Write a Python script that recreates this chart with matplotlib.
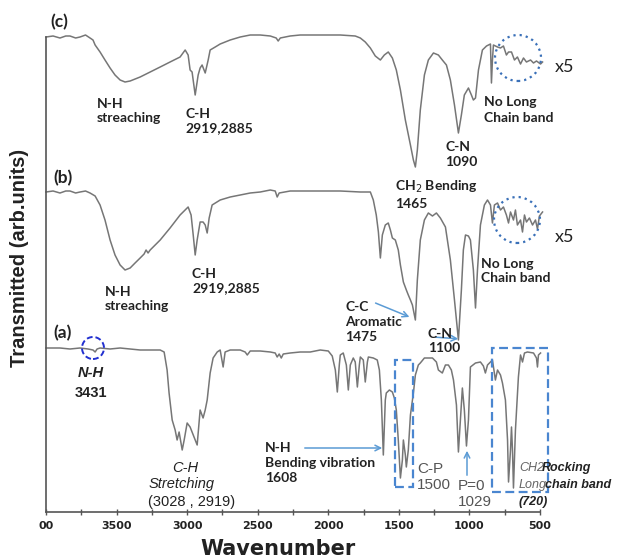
import matplotlib
matplotlib.use("Agg")
import matplotlib.pyplot as plt
from matplotlib.patches import Ellipse, Rectangle

# FTIR spectra, wavenumber (cm-1) and transmitted signal (arb. units, curves already offset)
wn_c = [4000, 3950, 3901, 3860, 3830, 3790, 3759, 3720, 3688, 3667, 3652, 3617, 3582, 3546, 3511,
        3475, 3440, 3404, 3333, 3262, 3191, 3121, 3050, 3014, 2993, 2979, 2965, 2943, 2922, 2908,
        2894, 2872, 2851, 2837, 2801, 2766, 2695, 2624, 2553, 2482, 2411, 2369, 2355, 2340, 2270,
        2199, 2057, 1915, 1809, 1773, 1738, 1702, 1667, 1631, 1603, 1575, 1546, 1518, 1489, 1454,
        1418, 1397, 1383, 1369, 1348, 1319, 1291, 1255, 1220, 1192, 1163, 1135, 1106, 1078, 1057,
        1036, 1007, 986, 972, 957, 936, 908, 879, 851, 844, 837, 830, 801, 780, 759, 738, 723, 702,
        681, 660, 638, 617, 596, 567, 546, 525, 496, 482]
t_c = [475, 476, 474, 476, 476, 474, 475, 477, 474, 472, 467, 460, 452, 444, 437,
       432, 430, 431, 435, 440, 445, 450, 455, 462, 457, 442, 440, 417, 437, 444,
       447, 439, 452, 462, 465, 468, 472, 475, 477, 477, 476, 474, 471, 474, 476,
       477, 477, 477, 476, 474, 470, 464, 456, 452, 457, 460, 454, 442, 422, 392,
       367, 352, 345, 362, 402, 437, 452, 459, 457, 452, 447, 432, 407, 379, 397,
       417, 424, 417, 412, 414, 442, 462, 466, 468, 429, 452, 467, 465, 464, 466, 457, 460, 460,
       452, 455, 448, 454, 450, 452, 449, 451, 448, 450]

wn_b = [4000, 3950, 3901, 3860, 3830, 3790, 3759, 3720, 3688, 3652, 3617, 3582, 3546, 3511, 3475,
        3440, 3404, 3369, 3333, 3305, 3291, 3277, 3262, 3191, 3121, 3050, 2993, 2972, 2957, 2943,
        2929, 2908, 2887, 2872, 2858, 2844, 2823, 2766, 2695, 2624, 2553, 2482, 2411, 2376, 2362,
        2348, 2270, 2199, 2057, 1915, 1773, 1702, 1681, 1660, 1645, 1631, 1617, 1596, 1575, 1560,
        1546, 1525, 1504, 1489, 1468, 1447, 1433, 1418, 1404, 1383, 1369, 1348, 1319, 1291, 1262,
        1234, 1206, 1170, 1135, 1106, 1078, 1057, 1043, 1028, 1007, 993, 972, 957, 943, 922, 894,
        872, 851, 837, 823, 801, 780, 759, 738, 723, 709, 688, 674, 660, 638, 624, 610, 596, 575,
        553, 532, 518, 504, 482]
t_b = [320, 321, 319, 321, 321, 319, 320, 321, 319, 316, 307, 292, 272, 257, 247,
       242, 244, 249, 254, 258, 262, 259, 262, 272, 284, 297, 305, 297, 277, 257,
       272, 290, 290, 287, 279, 294, 307, 312, 315, 317, 319, 320, 322, 321, 315,
       319, 321, 321, 321, 321, 320, 320, 312, 297, 280, 254, 277, 287, 289, 282,
       274, 272, 262, 247, 230, 222, 217, 212, 207, 192, 232, 272, 292, 299, 296,
       299, 294, 285, 252, 212, 172, 222, 262, 277, 276, 272, 242, 204, 242, 287, 307,
       312, 307, 289, 307, 309, 302, 305, 297, 289, 300, 292, 302, 287, 292, 280, 297, 290, 294,
       287, 292, 283, 296, 300]

wn_a = [4000, 3901, 3830, 3759, 3702, 3667, 3652, 3638, 3617, 3546, 3475, 3404, 3333, 3262, 3191,
        3163, 3142, 3128, 3106, 3085, 3071, 3057, 3035, 3021, 3000, 2979, 2957, 2929, 2908, 2887,
        2872, 2858, 2837, 2816, 2787, 2766, 2745, 2731, 2695, 2624, 2589, 2574, 2553, 2482, 2411,
        2376, 2362, 2348, 2333, 2319, 2270, 2199, 2128, 2057, 2000, 1972, 1950, 1936, 1922, 1915,
        1894, 1872, 1858, 1844, 1823, 1809, 1794, 1780, 1773, 1752, 1738, 1723, 1716, 1681, 1653,
        1638, 1624, 1610, 1596, 1589, 1567, 1546, 1532, 1518, 1504, 1489, 1475, 1468, 1454, 1447,
        1433, 1418, 1397, 1383, 1362, 1348, 1319, 1298, 1262, 1234, 1220, 1192, 1170, 1149, 1128,
        1113, 1092, 1078, 1064, 1050, 1036, 1021, 1007, 993, 957, 922, 901, 887, 872, 837, 816,
        801, 780, 766, 745, 730, 723, 709, 702, 695, 688, 674, 653, 638, 624, 610, 589, 546, 525,
        518, 511, 496]
t_a = [164, 164, 163, 164, 163, 162, 160, 163, 164, 163, 164, 163, 162, 162, 162,
       160, 142, 119, 92, 82, 72, 80, 62, 72, 89, 85, 77, 67, 102, 94,
       102, 112, 139, 154, 160, 162, 145, 160, 162, 162, 160, 157, 161, 161, 160,
       159, 155, 158, 154, 158, 159, 160, 160, 162, 161, 156, 142, 120, 147, 157,
       159, 147, 122, 147, 154, 150, 125, 147, 155, 152, 130, 150, 155, 154, 152,
       142, 112, 57, 112, 119, 122, 120, 114, 102, 72, 34, 52, 72, 57, 45,
       62, 97, 119, 137, 147, 149, 154, 154, 154, 150, 142, 139, 147, 147, 142,
       132, 107, 60, 92, 124, 102, 66, 92, 145, 149, 150, 146, 139, 147, 152, 132,
       142, 137, 129, 112, 72, 30, 62, 85, 62, 24, 82, 135, 157, 150, 159, 160, 159, 154,
       145, 157, 159]

xticks = [4000, 3500, 3000, 2500, 2000, 1500, 1000, 500]
xtick_labels = ["00", "3500", "3000", "2500", "2000", "1500", "1000", "500"]

W, H = 618, 559


def P(x, y):
    # pixel position -> figure fraction
    return (x / W, 1 - y / H)


fig = plt.figure(figsize=(W / 100, H / 100), dpi=100)
ax = fig.add_axes([46 / W, 1 - 512 / H, 494 / W, 475 / H])

for wn, t in [(wn_c, t_c), (wn_b, t_b), (wn_a, t_a)]:
    ax.plot(wn, t, color="#767676", lw=1.1, clip_on=False)

ax.set_xlim(4000, 500)
ax.set_ylim(0, 475)
ax.set_xticks(xticks)
ax.set_xticklabels(xtick_labels, fontsize=8, fontweight="bold", color="#222")
ax.set_xticks([3750, 3250, 2750, 2250, 1750, 1250, 750], minor=True)
ax.set_yticks([])
for s in ["top", "right"]:
    ax.spines[s].set_visible(False)
for s in ["left", "bottom"]:
    ax.spines[s].set_color("#555")
    ax.spines[s].set_linewidth(1.2)
ax.tick_params(axis="x", which="both", direction="inout", length=5, width=1, color="#555", pad=4)

fig.text(*P(20, 258), "Transmitted (arb.units)", rotation=90, ha="center", va="center",
         fontsize=14.5, fontweight="bold", family="Liberation Sans", color="#222")
fig.text(*P(278, 549), "Wavenumber", ha="center", va="center", fontsize=15,
         fontweight="bold", color="#222")

lab = dict(family=["Lato", "DejaVu Sans"], fontweight="bold", fontsize=10, color="#222",
           va="center", ha="left", linespacing=1.3)
fig.text(*P(50, 22), "(c)", **{**lab, "fontsize": 12.5})
fig.text(*P(53, 178), "(b)", **{**lab, "fontsize": 12.5})
fig.text(*P(53, 333), "(a)", **{**lab, "fontsize": 12.5})

fig.text(*P(97, 111), "N-H\nstreaching", **lab)
fig.text(*P(185, 121), "C-H\n2919,2885", **lab)
fig.text(*P(105, 299), "N-H\nstreaching", **lab)
fig.text(*P(192, 281), "C-H\n2919,2885", **lab)
fig.text(*P(395, 194), "CH$_2$ Bending\n1465", **lab)
fig.text(*P(445, 155), "C-N\n1090", **lab)
fig.text(*P(484, 110), "No Long\nChain band", **lab)
fig.text(*P(481, 271), "No Long\nChain band", **lab)
fig.text(*P(555, 67), "x5", **{**lab, "fontsize": 13, "fontweight": "normal"})
fig.text(*P(555, 237), "x5", **{**lab, "fontsize": 13, "fontweight": "normal"})
fig.text(*P(345, 322), "C-C\nAromatic\n1475", **lab)
fig.text(*P(428, 341), "C-N\n1100", **lab)
fig.text(*P(265, 463), "N-H\nBending vibration\n1608", **lab)

arial = dict(family="Liberation Sans", fontsize=10.5, va="center", ha="center", color="#222")
fig.text(*P(91, 373), "N-H", style="italic", fontweight="bold", **arial)
fig.text(*P(91, 393), "3431", fontweight="bold", **arial)
fig.text(*P(185, 468), "C-H", style="italic", **arial)
fig.text(*P(182, 484), "Stretching", style="italic", **arial)
fig.text(*P(192, 502), "(3028 , 2919)", **arial)
fig.text(*P(417, 477), "C-P\n1500", **{**arial, "ha": "left", "color": "#555", "fontsize": 11})
fig.text(*P(458, 494), "P=0\n1029", **{**arial, "ha": "left", "color": "#555", "fontsize": 11})
small = {**arial, "ha": "left", "fontsize": 9}
fig.text(*P(519, 468), "CH2", style="italic", **{**small, "color": "#666"})
fig.text(*P(542, 468), "Rocking", style="italic", fontweight="bold", **small)
fig.text(*P(519, 485), "Long", style="italic", **{**small, "color": "#666"})
fig.text(*P(545, 485), "chain band", style="italic", fontweight="bold", **small)
fig.text(*P(519, 502), "(720)", style="italic", fontweight="bold", **small)

arrow = dict(arrowstyle="->", color="#5b9bd5", lw=1.1)
for start, end in [((373, 302), (412, 318)), ((433, 337), (461, 339)),
                   ((302, 448), (385, 448)), ((467, 478), (467, 448))]:
    ax.annotate("", xy=P(*end), xytext=P(*start), xycoords="figure fraction",
                textcoords="figure fraction", arrowprops=arrow)

for cx, cy, r in [(518, 58, 23), (517, 220, 23)]:
    fig.add_artist(Ellipse(P(cx, cy), 2 * r / W, 2 * r / H, transform=fig.transFigure,
                           fill=False, ec="#3a70b8", lw=1.6, ls=(0, (1, 1.8))))
fig.add_artist(Ellipse(P(93, 348), 22 / W, 22 / H, transform=fig.transFigure,
                       fill=False, ec="#2230d0", lw=1.4, ls=(0, (3, 1.5))))
for x0, y0, x1, y1 in [(395, 360, 413, 487), (492, 348, 548, 492)]:
    fig.add_artist(Rectangle(P(x0, y1), (x1 - x0) / W, (y1 - y0) / H, transform=fig.transFigure,
                             fill=False, ec="#4a86d0", lw=1.6, ls=(0, (4, 2))))

fig.savefig("out.png", dpi=100)
